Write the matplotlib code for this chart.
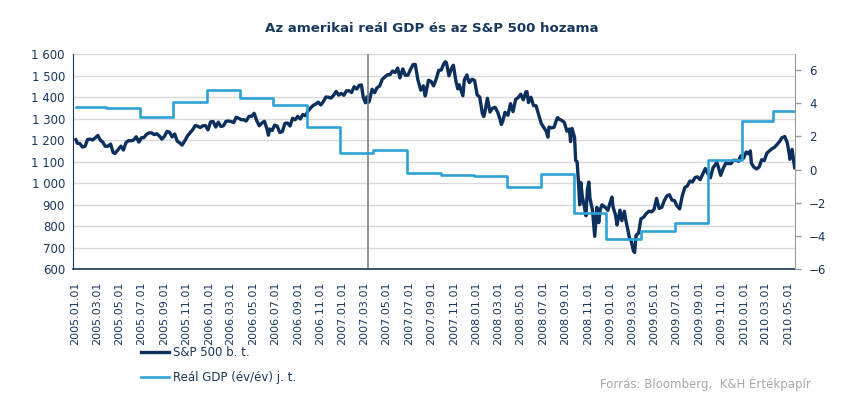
import matplotlib
matplotlib.use("Agg")
import matplotlib.pyplot as plt
import matplotlib.dates as mdates
from matplotlib.lines import Line2D
import pandas as pd

# S&P 500 (left axis)
spx_dates = [
    "2005-01-03", "2005-01-07", "2005-01-14", "2005-01-21", "2005-01-28", "2005-02-04", "2005-02-11",
    "2005-02-18", "2005-02-25", "2005-03-04", "2005-03-11", "2005-03-18", "2005-03-24", "2005-04-01",
    "2005-04-08", "2005-04-15", "2005-04-20", "2005-04-29", "2005-05-06", "2005-05-13", "2005-05-20",
    "2005-05-27", "2005-06-03", "2005-06-10", "2005-06-17", "2005-06-24", "2005-07-01", "2005-07-08",
    "2005-07-15", "2005-07-22", "2005-07-29", "2005-08-05", "2005-08-12", "2005-08-19", "2005-08-26",
    "2005-09-02", "2005-09-09", "2005-09-16", "2005-09-23", "2005-09-30", "2005-10-07", "2005-10-14",
    "2005-10-20", "2005-10-28", "2005-11-04", "2005-11-11", "2005-11-18", "2005-11-25", "2005-12-02",
    "2005-12-09", "2005-12-16", "2005-12-23", "2005-12-30",
    "2006-01-06", "2006-01-13", "2006-01-20", "2006-01-27", "2006-02-03", "2006-02-10", "2006-02-17",
    "2006-02-24", "2006-03-03", "2006-03-10", "2006-03-17", "2006-03-24", "2006-03-31", "2006-04-07",
    "2006-04-13", "2006-04-21", "2006-04-28", "2006-05-05", "2006-05-12", "2006-05-19", "2006-05-26",
    "2006-06-02", "2006-06-09", "2006-06-13", "2006-06-16", "2006-06-23", "2006-06-30", "2006-07-07",
    "2006-07-14", "2006-07-21", "2006-07-28", "2006-08-04", "2006-08-11", "2006-08-18", "2006-08-25",
    "2006-09-01", "2006-09-08", "2006-09-15", "2006-09-22", "2006-09-29", "2006-10-06", "2006-10-13",
    "2006-10-20", "2006-10-27", "2006-11-03", "2006-11-10", "2006-11-17", "2006-11-24", "2006-12-01",
    "2006-12-08", "2006-12-15", "2006-12-22", "2006-12-29",
    "2007-01-05", "2007-01-12", "2007-01-19", "2007-01-26", "2007-02-02", "2007-02-09", "2007-02-16",
    "2007-02-22", "2007-02-27", "2007-03-02", "2007-03-05", "2007-03-09", "2007-03-14", "2007-03-16",
    "2007-03-23", "2007-03-30", "2007-04-05", "2007-04-13", "2007-04-20", "2007-04-27", "2007-05-04",
    "2007-05-11", "2007-05-18", "2007-05-25", "2007-06-01", "2007-06-07", "2007-06-15", "2007-06-22",
    "2007-06-29", "2007-07-06", "2007-07-13", "2007-07-19", "2007-07-26", "2007-08-03", "2007-08-10",
    "2007-08-15", "2007-08-16", "2007-08-24", "2007-08-31", "2007-09-07", "2007-09-14", "2007-09-21",
    "2007-09-28", "2007-10-05", "2007-10-09", "2007-10-12", "2007-10-19", "2007-10-26", "2007-10-31",
    "2007-11-07", "2007-11-12", "2007-11-16", "2007-11-26", "2007-11-30", "2007-12-07", "2007-12-11",
    "2007-12-14", "2007-12-21", "2007-12-28",
    "2008-01-04", "2008-01-11", "2008-01-18", "2008-01-22", "2008-01-25", "2008-02-01", "2008-02-08",
    "2008-02-15", "2008-02-22", "2008-02-29", "2008-03-07", "2008-03-10", "2008-03-14", "2008-03-20",
    "2008-03-28", "2008-04-04", "2008-04-11", "2008-04-18", "2008-04-25", "2008-05-02", "2008-05-09",
    "2008-05-16", "2008-05-19", "2008-05-23", "2008-05-30", "2008-06-06", "2008-06-13", "2008-06-20",
    "2008-06-27", "2008-07-03", "2008-07-11", "2008-07-15", "2008-07-18", "2008-07-25", "2008-08-01",
    "2008-08-08", "2008-08-11", "2008-08-15", "2008-08-22", "2008-08-29", "2008-09-05", "2008-09-12",
    "2008-09-15", "2008-09-19", "2008-09-26", "2008-09-29", "2008-10-03", "2008-10-07", "2008-10-10",
    "2008-10-13", "2008-10-17", "2008-10-22", "2008-10-27", "2008-10-31", "2008-11-04", "2008-11-07",
    "2008-11-14", "2008-11-20", "2008-11-26", "2008-12-01", "2008-12-05", "2008-12-10", "2008-12-19",
    "2008-12-26", "2008-12-31",
    "2009-01-06", "2009-01-09", "2009-01-16", "2009-01-20", "2009-01-23", "2009-01-28", "2009-02-02",
    "2009-02-09", "2009-02-13", "2009-02-20", "2009-02-23", "2009-02-27", "2009-03-06", "2009-03-09",
    "2009-03-13", "2009-03-20", "2009-03-26", "2009-04-03", "2009-04-09", "2009-04-17", "2009-04-24",
    "2009-05-01", "2009-05-08", "2009-05-15", "2009-05-22", "2009-05-29", "2009-06-05", "2009-06-12",
    "2009-06-19", "2009-06-26", "2009-07-02", "2009-07-10", "2009-07-17", "2009-07-24", "2009-07-31",
    "2009-08-07", "2009-08-14", "2009-08-21", "2009-08-28", "2009-09-04", "2009-09-11", "2009-09-18",
    "2009-09-25", "2009-10-02", "2009-10-09", "2009-10-16", "2009-10-19", "2009-10-23", "2009-10-30",
    "2009-11-06", "2009-11-13", "2009-11-20", "2009-11-27", "2009-12-04", "2009-12-11", "2009-12-18",
    "2009-12-24", "2009-12-31",
    "2010-01-08", "2010-01-15", "2010-01-19", "2010-01-22", "2010-01-29", "2010-02-05", "2010-02-12",
    "2010-02-19", "2010-02-26", "2010-03-05", "2010-03-12", "2010-03-19", "2010-03-26", "2010-04-01",
    "2010-04-09", "2010-04-15", "2010-04-23", "2010-04-30", "2010-05-06", "2010-05-07", "2010-05-13",
    "2010-05-20",
]
spx_values = [
    1202, 1186, 1184, 1168, 1171, 1203, 1205,
    1201, 1211, 1222, 1200, 1190, 1172, 1172,
    1182, 1142, 1138, 1157, 1172, 1154, 1189,
    1198, 1197, 1201, 1216, 1191, 1211, 1212,
    1227, 1234, 1234, 1226, 1230, 1220, 1205,
    1218, 1241, 1237, 1215, 1229, 1195, 1187,
    1177, 1198, 1220, 1235, 1248, 1268, 1265,
    1259, 1267, 1268, 1248,
    1285, 1287, 1261, 1284, 1264, 1267, 1288,
    1289, 1287, 1282, 1307, 1302, 1295, 1295,
    1289, 1311, 1311, 1325, 1291, 1267, 1280,
    1288, 1253, 1223, 1252, 1245, 1270, 1265,
    1236, 1240, 1278, 1280, 1266, 1302, 1295,
    1311, 1299, 1319, 1314, 1336, 1350, 1362,
    1368, 1377, 1364, 1380, 1401, 1400, 1396,
    1409, 1427, 1410, 1418,
    1409, 1430, 1430, 1422, 1449, 1438, 1456,
    1457, 1399, 1387, 1374, 1402, 1377, 1386,
    1437, 1421, 1443, 1453, 1484, 1494, 1505,
    1505, 1522, 1515, 1536, 1490, 1532, 1502,
    1503, 1530, 1552, 1553, 1482, 1433, 1453,
    1406, 1411, 1479, 1474, 1453, 1484, 1525,
    1527, 1557, 1565, 1561, 1500, 1535, 1549,
    1475, 1439, 1458, 1407, 1481, 1504, 1477,
    1468, 1484, 1478,
    1411, 1401, 1325, 1310, 1330, 1395, 1331,
    1349, 1353, 1331, 1294, 1273, 1288, 1330,
    1316, 1370, 1333, 1390, 1398, 1414, 1388,
    1425, 1426, 1375, 1400, 1361, 1360, 1318,
    1278, 1262, 1240, 1214, 1261, 1257, 1260,
    1296, 1305, 1298, 1292, 1283, 1242, 1252,
    1193, 1255, 1213, 1106, 1099, 996, 899,
    1003, 940, 896, 848, 969, 1005, 930,
    873, 752, 887, 816, 876, 899, 887,
    873, 903,
    935, 890, 850, 805, 832, 874, 825,
    869, 827, 770, 743, 735, 683, 677,
    756, 768, 833, 842, 857, 869, 866,
    877, 929, 882, 887, 919, 940, 946,
    921, 918, 896, 880, 940, 979, 987,
    1010, 1005, 1026, 1029, 1016, 1042, 1068,
    1044, 1025, 1071, 1087, 1097, 1079, 1036,
    1069, 1093, 1091, 1091, 1106, 1106, 1102,
    1127, 1115,
    1145, 1136, 1150, 1092, 1074, 1066, 1075,
    1109, 1105, 1139, 1150, 1160, 1167, 1178,
    1194, 1211, 1217, 1187, 1128, 1111, 1157,
    1072,
]

# Real GDP y/y % (right axis), step levels and the dates they change
gdp_start = "2005-01-03"
gdp_end = "2010-05-21"
gdp_change_dates = [
    "2005-03-26", "2005-06-26", "2005-09-26", "2005-12-26",
    "2006-03-26", "2006-06-26", "2006-09-26", "2006-12-26",
    "2007-03-26", "2007-06-26", "2007-09-26", "2007-12-26",
    "2008-03-26", "2008-06-26", "2008-09-24", "2008-12-22",
    "2009-03-26", "2009-06-26", "2009-09-26", "2009-12-26",
    "2010-03-22",
]
gdp_levels = [3.78, 3.70, 3.18, 4.10, 4.80, 4.30, 3.90, 2.57, 0.98, 1.15, -0.20,
              -0.34, -0.38, -1.07, -0.30, -2.62, -4.20, -3.70, -3.24, 0.60, 2.90, 3.50]

marker_date = "2007-03-12"

left_ticks = [600, 700, 800, 900, 1000, 1100, 1200, 1300, 1400, 1500, 1600]
left_labels = ["600", "700", "800", "900", "1 000", "1 100", "1 200", "1 300", "1 400", "1 500", "1 600"]
right_ticks = [-6, -4, -2, 0, 2, 4, 6]

navy = "#17375e"
spx_color = "#0c2f5c"
gdp_color = "#2ea2d8"

fig = plt.figure(figsize=(8.5, 3.96), dpi=100)
ax = fig.add_axes([0.0862, 0.3207, 0.8491, 0.5422])
ax2 = ax.twinx()

spx_x = pd.to_datetime(spx_dates)
ax.plot(spx_x, spx_values, color=spx_color, lw=2.4, solid_joinstyle="round")

gdp_x = pd.to_datetime([gdp_start] + gdp_change_dates + [gdp_end])
gdp_y = gdp_levels + [gdp_levels[-1]]
ax2.plot(gdp_x, gdp_y, color=gdp_color, lw=1.9, drawstyle="steps-post")

ax.axvline(pd.Timestamp(marker_date), color="#808080", lw=1.2)

ax.set_xlim(pd.Timestamp("2004-12-27"), pd.Timestamp("2010-05-21"))
ax.set_ylim(600, 1600)
ax2.set_ylim(-6, 6.95)

ax.set_yticks(left_ticks)
ax.set_yticklabels(left_labels)
ax.yaxis.grid(True, color="#d9d9d9", lw=1)
ax.set_axisbelow(True)
ax.tick_params(axis="y", length=0, pad=6, labelsize=8.5, labelcolor=navy)

ax2.set_yticks(right_ticks)
ax2.tick_params(axis="y", length=4, width=1, color="#9a9a9a", pad=6, labelsize=8.5, labelcolor=navy)

xticks = pd.date_range("2005-01-01", "2010-05-01", freq="2MS")
ax.set_xticks(xticks)
ax.xaxis.set_major_formatter(mdates.DateFormatter("%Y.%m.%d"))
ax.tick_params(axis="x", length=0, pad=9, labelsize=8, labelcolor=navy, labelrotation=90)

for a in (ax, ax2):
    a.spines["top"].set_visible(False)
ax.spines["left"].set_color(navy)
ax.spines["bottom"].set_color(navy)
ax.spines["bottom"].set_linewidth(1.2)
ax2.spines["left"].set_visible(False)
ax2.spines["bottom"].set_visible(False)
ax2.spines["right"].set_color("#9a9a9a")
ax.spines["right"].set_visible(False)

fig.text(0.508, 0.929, "Az amerikai reál GDP és az S&P 500 hozama", ha="center", va="center",
         fontsize=9.6, fontweight="bold", color=navy)

handles = [Line2D([], [], color=spx_color, lw=2.4), Line2D([], [], color=gdp_color, lw=1.9)]
fig.legend(handles, ["S&P 500 b. t.", "Reál GDP (év/év) j. t."], loc="upper left",
           bbox_to_anchor=(0.166, 0.126), frameon=False, fontsize=8.5, labelcolor=navy,
           handlelength=2.4, handletextpad=0.3, labelspacing=1.0, borderpad=0, borderaxespad=0)

fig.text(0.954, 0.030, "Forrás: Bloomberg,  K&H Értékpapír", ha="right", va="center",
         fontsize=8.5, color="#a6a6a6")

fig.savefig("out.png", dpi=100)
